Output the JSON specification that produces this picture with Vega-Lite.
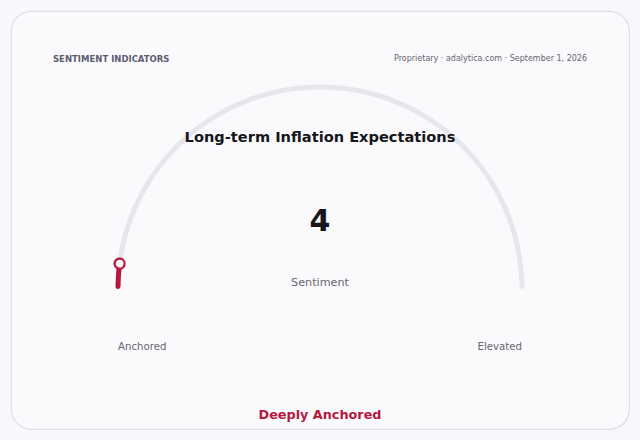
{
  "$schema": "https://vega.github.io/schema/vega-lite/v6.json",
  "width": 640,
  "height": 440,
  "autosize": {"type": "fit", "contains": "padding"},
  "padding": 11,
  "background": "#f8f8fc",
  "view": {"fill": "#fafafd", "stroke": "#dcdde8", "strokeWidth": 1.2, "cornerRadius": 20},
  "config": {
    "font": "DejaVu Sans"
  },
  "data": {
    "values": [
      {"section": "SENTIMENT INDICATORS", "source": "Proprietary · adalytica.com · September 1, 2026", "indicator": "Long-term Inflation Expectations", "value": 4, "min": 0, "max": 100, "metric": "Sentiment", "low": "Anchored", "high": "Elevated", "label": "Deeply Anchored"}
    ]
  },
  "layer": [
    {
      "mark": {"type": "arc", "x": {"expr": "width/2"}, "y": {"expr": "height*0.665"}, "radius": 204.5, "radius2": 199.5, "cornerRadius": 2.5, "color": "#e6e6ed"},
      "encoding": {
        "theta": {"field": "min", "type": "quantitative", "stack": null, "scale": {"domain": [0, 100], "range": [-1.5707963, 1.5707963]}},
        "theta2": {"field": "max"}
      }
    },
    {
      "mark": {"type": "arc", "x": {"expr": "width/2"}, "y": {"expr": "height*0.665"}, "radius": 204.5, "radius2": 199.5, "cornerRadius": 2.5, "color": "#b5173f"},
      "encoding": {
        "theta": {"field": "min", "type": "quantitative", "stack": null},
        "theta2": {"field": "value"}
      }
    },
    {
      "mark": {"type": "arc", "x": {"expr": "width/2"}, "y": {"expr": "height*0.665"}, "radius": 207, "radius2": 197, "cornerRadius": 5, "thetaOffset": -0.0248, "theta2Offset": 0.0248, "fill": "#ffffff", "stroke": "#b5173f", "strokeWidth": 2.3},
      "encoding": {
        "theta": {"field": "value", "type": "quantitative", "stack": null},
        "theta2": {"field": "value"}
      }
    },
    {
      "mark": {"type": "text", "x": 42, "y": 48, "align": "left", "baseline": "middle", "fontSize": 8.5, "fontWeight": "bold", "color": "#5c5d70"},
      "encoding": {"text": {"field": "section"}}
    },
    {
      "mark": {"type": "text", "x": {"expr": "width-42"}, "y": 48, "align": "right", "baseline": "middle", "fontSize": 8, "color": "#66666f"},
      "encoding": {"text": {"field": "source"}}
    },
    {
      "mark": {"type": "text", "x": {"expr": "width/2"}, "y": 127, "align": "center", "baseline": "middle", "fontSize": 14.6, "fontWeight": "bold", "color": "#16161c"},
      "encoding": {"text": {"field": "indicator"}}
    },
    {
      "mark": {"type": "text", "x": {"expr": "width/2"}, "y": 211, "align": "center", "baseline": "middle", "fontSize": 30, "fontWeight": "bold", "color": "#16161c"},
      "encoding": {"text": {"field": "value"}}
    },
    {
      "mark": {"type": "text", "x": {"expr": "width/2"}, "y": 272, "align": "center", "baseline": "middle", "fontSize": 11.2, "color": "#66666f"},
      "encoding": {"text": {"field": "metric"}}
    },
    {
      "mark": {"type": "text", "x": 107, "y": 336, "align": "left", "baseline": "middle", "fontSize": 10.2, "color": "#66666f"},
      "encoding": {"text": {"field": "low"}}
    },
    {
      "mark": {"type": "text", "x": {"expr": "width-107"}, "y": 336, "align": "right", "baseline": "middle", "fontSize": 10.2, "color": "#66666f"},
      "encoding": {"text": {"field": "high"}}
    },
    {
      "mark": {"type": "text", "x": {"expr": "width/2"}, "y": 404, "align": "center", "baseline": "middle", "fontSize": 12.8, "fontWeight": "bold", "color": "#b5173f"},
      "encoding": {"text": {"field": "label"}}
    }
  ]
}
